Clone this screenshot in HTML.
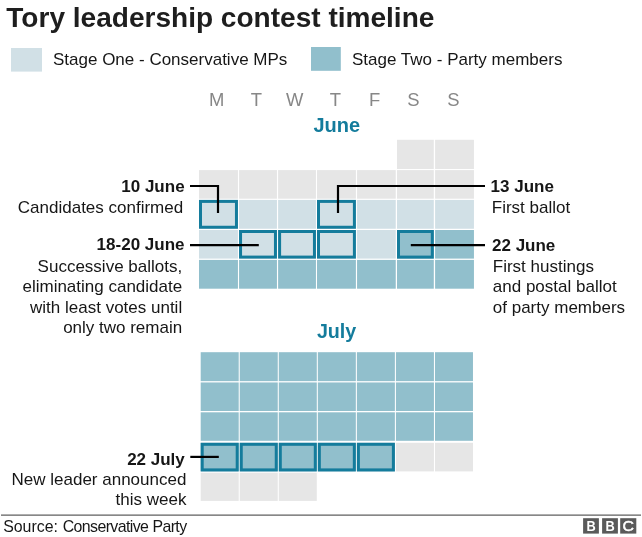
<!DOCTYPE html>
<html><head><meta charset="utf-8"><title>Tory leadership contest timeline</title>
<style>
html,body{margin:0;padding:0;background:#fff;}
body{width:642px;height:537px;overflow:hidden;}
svg{display:block;font-family:"Liberation Sans",Arial,Helvetica,sans-serif;}
</style></head><body>
<svg width="642" height="537" viewBox="0 0 642 537">
<rect width="642" height="537" fill="#fff"/>
<rect x="11" y="48" width="31" height="23.6" fill="#d1e0e6"/>
<rect x="311" y="47" width="29.8" height="23.8" fill="#91bfcc"/>
<rect x="397.00" y="139.80" width="36.80" height="29.20" fill="#e6e6e6"/>
<rect x="435.10" y="139.80" width="38.85" height="29.20" fill="#e6e6e6"/>
<rect x="199.00" y="170.10" width="38.95" height="28.60" fill="#e6e6e6"/>
<rect x="239.05" y="170.10" width="37.90" height="28.60" fill="#e6e6e6"/>
<rect x="278.10" y="170.10" width="37.85" height="28.60" fill="#e6e6e6"/>
<rect x="317.00" y="170.10" width="38.90" height="28.60" fill="#e6e6e6"/>
<rect x="357.05" y="170.10" width="38.70" height="28.60" fill="#e6e6e6"/>
<rect x="397.00" y="170.10" width="36.80" height="28.60" fill="#e6e6e6"/>
<rect x="435.10" y="170.10" width="38.85" height="28.60" fill="#e6e6e6"/>
<rect x="199.00" y="199.90" width="38.95" height="28.85" fill="#d1e0e6"/>
<rect x="239.05" y="199.90" width="37.90" height="28.85" fill="#d1e0e6"/>
<rect x="278.10" y="199.90" width="37.85" height="28.85" fill="#d1e0e6"/>
<rect x="317.00" y="199.90" width="38.90" height="28.85" fill="#d1e0e6"/>
<rect x="357.05" y="199.90" width="38.70" height="28.85" fill="#d1e0e6"/>
<rect x="397.00" y="199.90" width="36.80" height="28.85" fill="#d1e0e6"/>
<rect x="435.10" y="199.90" width="38.85" height="28.85" fill="#d1e0e6"/>
<rect x="199.00" y="230.00" width="38.95" height="28.60" fill="#d1e0e6"/>
<rect x="239.05" y="230.00" width="37.90" height="28.60" fill="#d1e0e6"/>
<rect x="278.10" y="230.00" width="37.85" height="28.60" fill="#d1e0e6"/>
<rect x="317.00" y="230.00" width="38.90" height="28.60" fill="#d1e0e6"/>
<rect x="357.05" y="230.00" width="38.70" height="28.60" fill="#d1e0e6"/>
<rect x="397.00" y="230.00" width="36.80" height="28.60" fill="#91bfcc"/>
<rect x="435.10" y="230.00" width="38.85" height="28.60" fill="#91bfcc"/>
<rect x="199.00" y="259.90" width="38.95" height="28.80" fill="#91bfcc"/>
<rect x="239.05" y="259.90" width="37.90" height="28.80" fill="#91bfcc"/>
<rect x="278.10" y="259.90" width="37.85" height="28.80" fill="#91bfcc"/>
<rect x="317.00" y="259.90" width="38.90" height="28.80" fill="#91bfcc"/>
<rect x="357.05" y="259.90" width="38.70" height="28.80" fill="#91bfcc"/>
<rect x="397.00" y="259.90" width="36.80" height="28.80" fill="#91bfcc"/>
<rect x="435.10" y="259.90" width="38.85" height="28.80" fill="#91bfcc"/>
<rect x="200.70" y="352.20" width="38.00" height="28.95" fill="#91bfcc"/>
<rect x="239.75" y="352.20" width="38.00" height="28.95" fill="#91bfcc"/>
<rect x="278.79" y="352.20" width="38.00" height="28.95" fill="#91bfcc"/>
<rect x="317.83" y="352.20" width="38.00" height="28.95" fill="#91bfcc"/>
<rect x="356.88" y="352.20" width="38.00" height="28.95" fill="#91bfcc"/>
<rect x="395.93" y="352.20" width="38.00" height="28.95" fill="#91bfcc"/>
<rect x="434.97" y="352.20" width="38.00" height="28.95" fill="#91bfcc"/>
<rect x="200.70" y="382.45" width="38.00" height="28.55" fill="#91bfcc"/>
<rect x="239.75" y="382.45" width="38.00" height="28.55" fill="#91bfcc"/>
<rect x="278.79" y="382.45" width="38.00" height="28.55" fill="#91bfcc"/>
<rect x="317.83" y="382.45" width="38.00" height="28.55" fill="#91bfcc"/>
<rect x="356.88" y="382.45" width="38.00" height="28.55" fill="#91bfcc"/>
<rect x="395.93" y="382.45" width="38.00" height="28.55" fill="#91bfcc"/>
<rect x="434.97" y="382.45" width="38.00" height="28.55" fill="#91bfcc"/>
<rect x="200.70" y="412.30" width="38.00" height="28.50" fill="#91bfcc"/>
<rect x="239.75" y="412.30" width="38.00" height="28.50" fill="#91bfcc"/>
<rect x="278.79" y="412.30" width="38.00" height="28.50" fill="#91bfcc"/>
<rect x="317.83" y="412.30" width="38.00" height="28.50" fill="#91bfcc"/>
<rect x="356.88" y="412.30" width="38.00" height="28.50" fill="#91bfcc"/>
<rect x="395.93" y="412.30" width="38.00" height="28.50" fill="#91bfcc"/>
<rect x="434.97" y="412.30" width="38.00" height="28.50" fill="#91bfcc"/>
<rect x="200.70" y="442.80" width="38.00" height="28.60" fill="#91bfcc"/>
<rect x="239.75" y="442.80" width="38.00" height="28.60" fill="#91bfcc"/>
<rect x="278.79" y="442.80" width="38.00" height="28.60" fill="#91bfcc"/>
<rect x="317.83" y="442.80" width="38.00" height="28.60" fill="#91bfcc"/>
<rect x="356.88" y="442.80" width="38.00" height="28.60" fill="#91bfcc"/>
<rect x="395.93" y="442.80" width="38.00" height="28.60" fill="#e6e6e6"/>
<rect x="434.97" y="442.80" width="38.00" height="28.60" fill="#e6e6e6"/>
<rect x="200.70" y="472.70" width="38.00" height="28.20" fill="#e6e6e6"/>
<rect x="239.75" y="472.70" width="38.00" height="28.20" fill="#e6e6e6"/>
<rect x="278.79" y="472.70" width="38.00" height="28.20" fill="#e6e6e6"/>
<rect x="200.50" y="201.40" width="35.95" height="25.85" fill="none" stroke="#147c9c" stroke-width="3.0"/>
<rect x="318.50" y="201.40" width="35.90" height="25.85" fill="none" stroke="#147c9c" stroke-width="3.0"/>
<rect x="240.55" y="231.50" width="34.90" height="25.60" fill="none" stroke="#147c9c" stroke-width="3.0"/>
<rect x="279.60" y="231.50" width="34.85" height="25.60" fill="none" stroke="#147c9c" stroke-width="3.0"/>
<rect x="318.50" y="231.50" width="35.90" height="25.60" fill="none" stroke="#147c9c" stroke-width="3.0"/>
<rect x="398.50" y="231.50" width="33.80" height="25.60" fill="none" stroke="#147c9c" stroke-width="3.0"/>
<rect x="202.20" y="444.30" width="35.00" height="25.60" fill="none" stroke="#147c9c" stroke-width="3.0"/>
<rect x="241.25" y="444.30" width="35.00" height="25.60" fill="none" stroke="#147c9c" stroke-width="3.0"/>
<rect x="280.29" y="444.30" width="35.00" height="25.60" fill="none" stroke="#147c9c" stroke-width="3.0"/>
<rect x="319.33" y="444.30" width="35.00" height="25.60" fill="none" stroke="#147c9c" stroke-width="3.0"/>
<rect x="358.38" y="444.30" width="35.00" height="25.60" fill="none" stroke="#147c9c" stroke-width="3.0"/>
<polyline points="190,186.0 218.0,186.0 218.0,213" fill="none" stroke="#000" stroke-width="2.2"/>
<polyline points="190,245.1 258.8,245.1" fill="none" stroke="#000" stroke-width="2.2"/>
<polyline points="485,186.0 338.0,186.0 338.0,213" fill="none" stroke="#000" stroke-width="2.2"/>
<polyline points="485,245.1 410.8,245.1" fill="none" stroke="#000" stroke-width="2.2"/>
<polyline points="190.3,456.9 218.8,456.9" fill="none" stroke="#000" stroke-width="2.2"/>
<rect x="1" y="514.4" width="640" height="1.5" fill="#7a7a7a"/>
<rect x="583.1" y="518.2" width="15.8" height="15.4" fill="#5a5a5a"/>
<text transform="translate(591.00,531.15) scale(0.855,1)" x="0" y="0" text-anchor="middle" font-size="15" font-weight="bold" fill="#fff">B</text>
<rect x="602.1" y="518.2" width="15.8" height="15.4" fill="#5a5a5a"/>
<text transform="translate(610.00,531.15) scale(0.855,1)" x="0" y="0" text-anchor="middle" font-size="15" font-weight="bold" fill="#fff">B</text>
<rect x="620.2" y="518.2" width="16.1" height="15.4" fill="#5a5a5a"/>
<text transform="translate(628.25,531.15) scale(1.06,1)" x="0" y="0" text-anchor="middle" font-size="15" font-weight="normal" fill="#fff" stroke="#fff" stroke-width="0.5">C</text>
<text x="6.3" y="26.8" text-anchor="start" font-size="28.05" font-weight="bold" fill="#1e1e1e">Tory leadership contest timeline</text>
<text x="53.0" y="65.2" text-anchor="start" font-size="17" font-weight="normal" fill="#161616">Stage One - Conservative MPs</text>
<text x="352.0" y="65.2" text-anchor="start" font-size="17" font-weight="normal" fill="#161616">Stage Two - Party members</text>
<text transform="translate(216.6,105.8) scale(0.971,1)" text-anchor="middle" font-size="19" fill="#878787">M</text>
<text transform="translate(256.3,105.8) scale(0.971,1)" text-anchor="middle" font-size="19" fill="#878787">T</text>
<text transform="translate(294.6,105.8) scale(0.971,1)" text-anchor="middle" font-size="19" fill="#878787">W</text>
<text transform="translate(335.3,105.8) scale(0.971,1)" text-anchor="middle" font-size="19" fill="#878787">T</text>
<text transform="translate(374.6,105.8) scale(0.971,1)" text-anchor="middle" font-size="19" fill="#878787">F</text>
<text transform="translate(413.5,105.8) scale(0.971,1)" text-anchor="middle" font-size="19" fill="#878787">S</text>
<text transform="translate(453.3,105.8) scale(0.971,1)" text-anchor="middle" font-size="19" fill="#878787">S</text>
<text x="336.8" y="131.7" text-anchor="middle" font-size="20" font-weight="bold" fill="#147c9c">June</text>
<text x="336.6" y="337.7" text-anchor="middle" font-size="19.7" font-weight="bold" fill="#147c9c">July</text>
<text x="184.6" y="192.4" text-anchor="end" font-size="17" font-weight="bold" fill="#161616">10 June</text>
<text x="183.2" y="212.8" text-anchor="end" font-size="17" font-weight="normal" fill="#161616">Candidates confirmed</text>
<text x="184.5" y="250.4" text-anchor="end" font-size="17" font-weight="bold" fill="#161616">18-20 June</text>
<text x="182.2" y="272.0" text-anchor="end" font-size="17" font-weight="normal" fill="#161616">Successive ballots,</text>
<text x="182.2" y="292.4" text-anchor="end" font-size="17" font-weight="normal" fill="#161616">eliminating candidate</text>
<text x="182.2" y="312.8" text-anchor="end" font-size="17" font-weight="normal" fill="#161616">with least votes until</text>
<text x="182.2" y="333.2" text-anchor="end" font-size="17" font-weight="normal" fill="#161616">only two remain</text>
<text x="490.6" y="192.4" text-anchor="start" font-size="17" font-weight="bold" fill="#161616">13 June</text>
<text x="491.8" y="212.9" text-anchor="start" font-size="17" font-weight="normal" fill="#161616">First ballot</text>
<text x="492" y="250.5" text-anchor="start" font-size="17" font-weight="bold" fill="#161616">22 June</text>
<text x="492.8" y="272.0" text-anchor="start" font-size="17" font-weight="normal" fill="#161616">First hustings</text>
<text x="492.8" y="292.4" text-anchor="start" font-size="17" font-weight="normal" fill="#161616">and postal ballot</text>
<text x="492.8" y="312.8" text-anchor="start" font-size="17" font-weight="normal" fill="#161616">of party members</text>
<text x="184.8" y="464.8" text-anchor="end" font-size="17" font-weight="bold" fill="#161616">22 July</text>
<text x="186.4" y="485.0" text-anchor="end" font-size="17" font-weight="normal" fill="#161616">New leader announced</text>
<text x="186.4" y="504.8" text-anchor="end" font-size="17" font-weight="normal" fill="#161616">this week</text>
<text y="531.8" font-size="15.9" fill="#161616"><tspan x="3.2">Source:</tspan> <tspan x="62.7" textLength="86.2" lengthAdjust="spacing">Conservative</tspan> <tspan x="152.5" textLength="34.6" lengthAdjust="spacing">Party</tspan></text>
</svg>
</body></html>
